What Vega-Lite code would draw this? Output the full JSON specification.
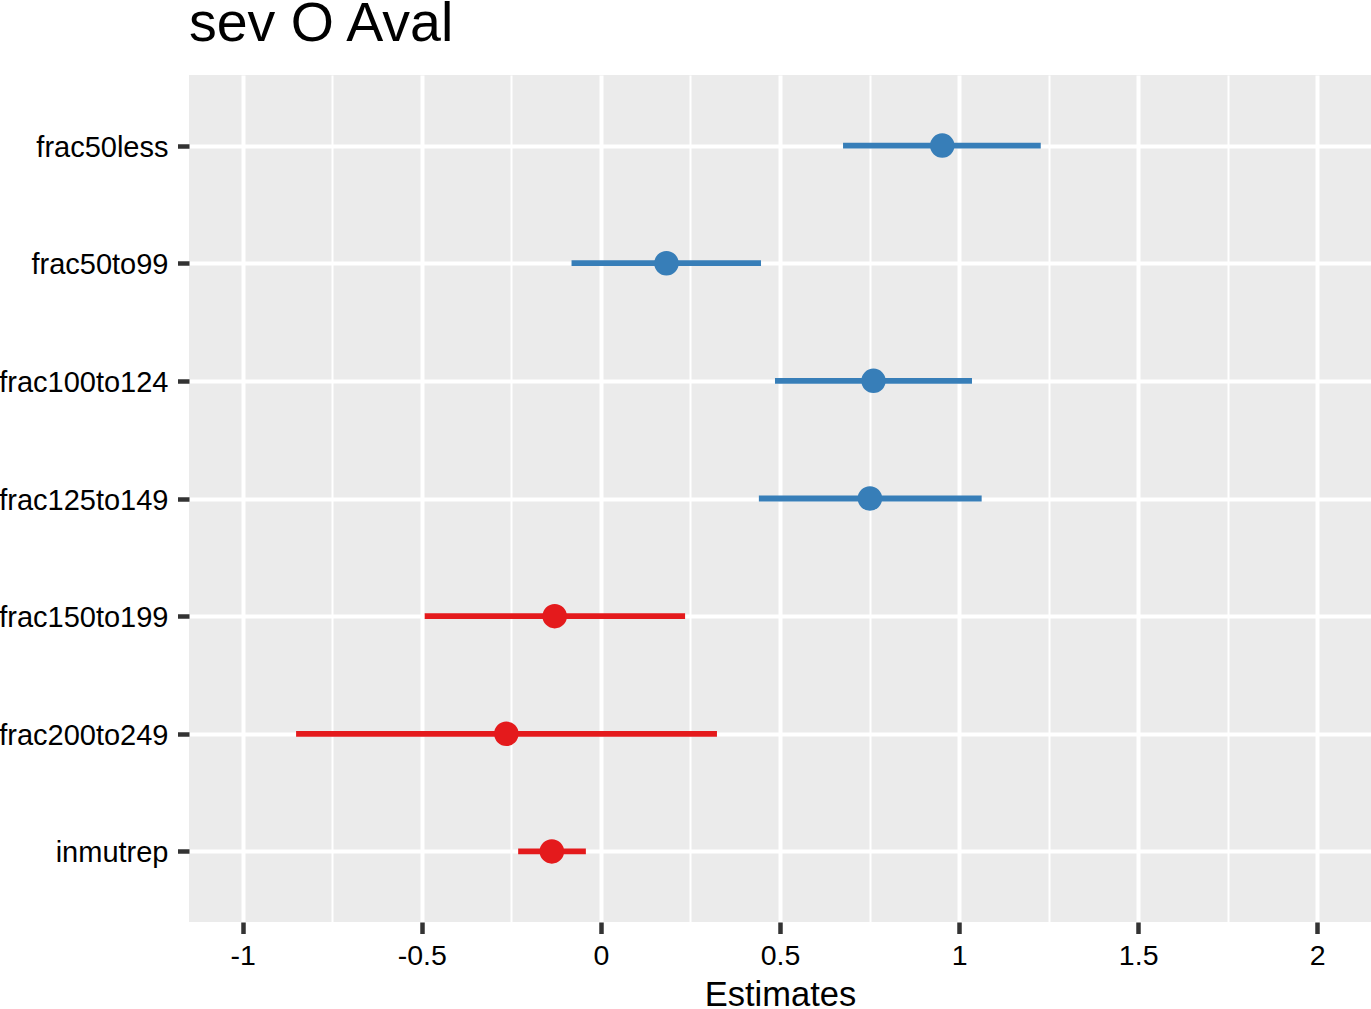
{
  "$schema": "https://vega.github.io/schema/vega-lite/v6.json",
  "width": 1182,
  "height": 847,
  "autosize": "none",
  "padding": {"left": 189, "top": 75, "right": 0, "bottom": 87},
  "background": "white",
  "title": {
    "text": "sev O Aval",
    "anchor": "start",
    "frame": "group",
    "fontSize": 55.5,
    "font": "Liberation Sans",
    "fontWeight": "normal",
    "color": "black",
    "baseline": "alphabetic",
    "offset": 33,
    "dy": 54
  },
  "config": {
    "view": {"fill": "#EBEBEB", "stroke": null},
    "font": "Liberation Sans"
  },
  "data": {
    "values": [
      {"term": "frac50less", "estimate": 0.953, "conf_low": 0.676, "conf_high": 1.228, "group": "pos"},
      {"term": "frac50to99", "estimate": 0.183, "conf_low": -0.082, "conf_high": 0.447, "group": "pos"},
      {"term": "frac100to124", "estimate": 0.761, "conf_low": 0.486, "conf_high": 1.036, "group": "pos"},
      {"term": "frac125to149", "estimate": 0.751, "conf_low": 0.441, "conf_high": 1.063, "group": "pos"},
      {"term": "frac150to199", "estimate": -0.129, "conf_low": -0.492, "conf_high": 0.235, "group": "neg"},
      {"term": "frac200to249", "estimate": -0.264, "conf_low": -0.851, "conf_high": 0.324, "group": "neg"},
      {"term": "inmutrep", "estimate": -0.137, "conf_low": -0.231, "conf_high": -0.042, "group": "neg"}
    ]
  },
  "encoding": {
    "y": {
      "field": "term",
      "type": "nominal",
      "sort": null,
      "scale": {"type": "point", "padding": 0.6},
      "axis": {
        "title": null,
        "domain": false,
        "labelFontSize": 29,
        "labelColor": "black",
        "labelPadding": 9.5,
        "labelBaseline": "alphabetic",
        "labelOffset": 10.5,
        "tickColor": "#333333",
        "tickWidth": 4.5,
        "tickSize": 11.5,
        "grid": true,
        "gridColor": "white",
        "gridWidth": 4
      }
    },
    "color": {
      "field": "group",
      "type": "nominal",
      "scale": {"domain": ["pos", "neg"], "range": ["#377EB8", "#E41A1C"]},
      "legend": null
    }
  },
  "layer": [
    {
      "mark": {"type": "rule", "strokeWidth": 5.8},
      "encoding": {
        "x": {
          "field": "conf_low",
          "type": "quantitative",
          "scale": {"domain": [-1.15, 2.15], "nice": false, "zero": false},
          "axis": {
            "values": [-1, -0.75, -0.5, -0.25, 0, 0.25, 0.5, 0.75, 1, 1.25, 1.5, 1.75, 2],
            "labelExpr": "abs(datum.value*2 - round(datum.value*2)) < 0.001 ? '' + datum.value : ''",
            "domain": false,
            "labelFontSize": 28.5,
            "labelColor": "black",
            "labelBaseline": "alphabetic",
            "labelPadding": 31,
            "labelFlush": false,
            "labelOverlap": false,
            "tickColor": "#333333",
            "tickWidth": 4.5,
            "tickSize": 11.5,
            "tickOpacity": {"condition": {"test": "abs(datum.value*2 - round(datum.value*2)) > 0.001", "value": 0}, "value": 1},
            "grid": true,
            "gridColor": "white",
            "gridWidth": {"condition": {"test": "abs(datum.value*2 - round(datum.value*2)) > 0.001", "value": 2}, "value": 4},
            "title": "Estimates",
            "titleFontSize": 34.5,
            "titleFontWeight": "normal",
            "titleColor": "black",
            "titleBaseline": "alphabetic",
            "titleY": 83
          }
        },
        "x2": {"field": "conf_high"}
      }
    },
    {
      "mark": {"type": "point", "filled": true, "size": 600, "opacity": 1},
      "encoding": {
        "x": {"field": "estimate", "type": "quantitative"}
      }
    }
  ]
}
